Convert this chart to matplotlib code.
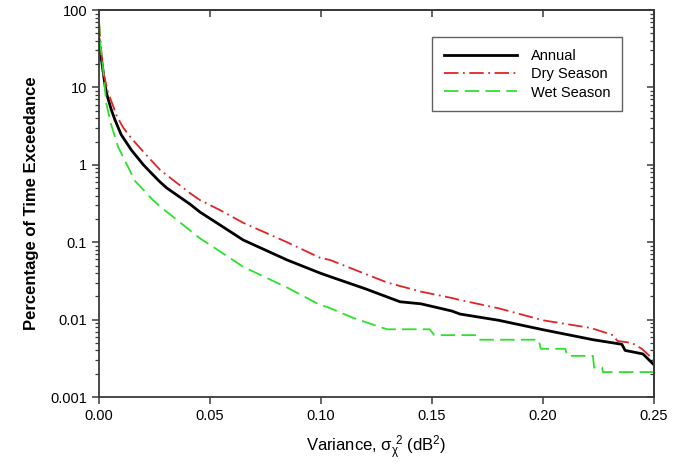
import numpy as np
import matplotlib
matplotlib.use("Agg")
import matplotlib.pyplot as plt

plt.rcParams["font.family"] = ["Liberation Sans", "DejaVu Sans"]
plt.rcParams["mathtext.default"] = "regular"

# datos (varianza en dB^2, porcentaje de tiempo excedido)
var_anual = [0.0, 0.0005, 0.0013, 0.0027, 0.0036, 0.0055, 0.0072, 0.0100, 0.0146,
             0.0200, 0.0236, 0.0275, 0.0306, 0.041, 0.0455, 0.0545, 0.0649, 0.0847,
             0.0995, 0.104, 0.120, 0.1356, 0.145, 0.159, 0.1626, 0.180, 0.200,
             0.2225, 0.2355, 0.237, 0.245, 0.25]
pct_anual = [42, 30, 21, 10.7, 8.0, 5.2, 3.8, 2.45, 1.55,
             1.0, 0.78, 0.60, 0.50, 0.31, 0.245, 0.167, 0.107, 0.059,
             0.040, 0.036, 0.025, 0.017, 0.016, 0.0129, 0.0118, 0.0098, 0.0074,
             0.0055, 0.0048, 0.0040, 0.0036, 0.0026]

var_seca = [0.0, 0.0008, 0.0018, 0.004, 0.0081, 0.011, 0.0146, 0.0207, 0.0275,
            0.041, 0.0455, 0.0545, 0.065, 0.0847, 0.0995, 0.104, 0.13, 0.145,
            0.159, 0.163, 0.18, 0.2, 0.2215, 0.2315, 0.2335, 0.24, 0.2445, 0.25]
pct_seca = [70, 35, 16, 8.8, 4.2, 3.0, 2.2, 1.4, 0.86,
            0.43, 0.35, 0.26, 0.178, 0.1, 0.063, 0.059, 0.030, 0.023,
            0.019, 0.0178, 0.014, 0.0098, 0.0078, 0.0063, 0.0053, 0.0050, 0.0042, 0.0030]

var_humeda = [0.0, 0.0007, 0.0018, 0.0033, 0.0055, 0.0086, 0.0162, 0.0243, 0.0275,
              0.0455, 0.0514, 0.065, 0.0847, 0.0995, 0.103, 0.1145, 0.1297, 0.149,
              0.151, 0.170, 0.171, 0.198, 0.199, 0.210, 0.211, 0.2225, 0.223,
              0.2266, 0.227, 0.25]
pct_humeda = [74, 35, 17.8, 6.2, 3.3, 1.7, 0.62, 0.35, 0.29,
              0.112, 0.087, 0.048, 0.026, 0.0155, 0.0145, 0.0105, 0.0075, 0.0075,
              0.0063, 0.0063, 0.0055, 0.0055, 0.0042, 0.0042, 0.0034, 0.0034, 0.0024,
              0.0024, 0.0021, 0.0021]

ticks_x = [0.00, 0.05, 0.10, 0.15, 0.20, 0.25]
ticks_y = [0.001, 0.01, 0.1, 1, 10, 100]
etiquetas_y = ["0.001", "0.01", "0.1", "1", "10", "100"]

COLOR_EJE = "#3a3a3a"

fig = plt.figure(figsize=(6.86, 4.70), dpi=100)
ax = fig.add_axes([0.1443, 0.1553, 0.8091, 0.8234])

ax.plot(var_anual, pct_anual, color="black", lw=2.0, label="Annual")
ax.plot(var_seca, pct_seca, color="#e02424", lw=1.3,
        linestyle=(0, (8, 2.5, 1, 2.5)), label="Dry Season")
ax.plot(var_humeda, pct_humeda, color="#2ee02e", lw=1.3,
        linestyle=(0, (8, 3.5)), label="Wet Season")

ax.set_yscale("log")
ax.set_xlim(0, 0.25)
ax.set_ylim(0.001, 100)
ax.set_xticks(ticks_x)
ax.set_xticklabels([f"{t:.2f}" for t in ticks_x])
ax.set_yticks(ticks_y)
ax.set_yticklabels(etiquetas_y)

for s in ax.spines.values():
    s.set_color(COLOR_EJE)
    s.set_linewidth(1.3)

ax.tick_params(axis="both", which="both", colors=COLOR_EJE, labelcolor="black",
               labelsize=10.5, direction="out")
ax.tick_params(axis="y", which="major", length=5, width=1.1)
ax.tick_params(axis="y", which="minor", length=3, width=0.9)
ax.tick_params(axis="x", which="major", length=5, width=1.1)
ax.tick_params(axis="x", which="minor", length=0)

# ticks interiores en los bordes derecho y superior
der = ax.secondary_yaxis("right")
der.tick_params(axis="y", which="major", direction="in", length=5, width=1.1,
                colors=COLOR_EJE, labelright=False)
der.tick_params(axis="y", which="minor", direction="in", length=3, width=0.9,
                colors=COLOR_EJE)
der.spines["right"].set_color(COLOR_EJE)
der.spines["right"].set_linewidth(1.3)

sup = ax.secondary_xaxis("top")
sup.set_xticks(ticks_x)
sup.tick_params(axis="x", which="major", direction="in", length=5, width=1.1,
                colors=COLOR_EJE, labeltop=False)
sup.spines["top"].set_color(COLOR_EJE)
sup.spines["top"].set_linewidth(1.3)

ax.set_xlabel(r"Variance, $\sigma_{\chi}^{\ 2}$ (dB$^2$)", fontsize=12, labelpad=8)
ax.set_ylabel("Percentage of Time Exceedance", fontsize=12, fontweight="bold",
              labelpad=8)

leg = ax.legend(loc="upper left", bbox_to_anchor=(0.6, 0.93), fontsize=10.5,
                frameon=True, fancybox=False, shadow=False, handlelength=5.0,
                handletextpad=1.0, labelspacing=0.3, borderpad=0.8,
                borderaxespad=0.0)
leg.get_frame().set_edgecolor(COLOR_EJE)
leg.get_frame().set_linewidth(1.0)

fig.savefig("out.png", dpi=100)
